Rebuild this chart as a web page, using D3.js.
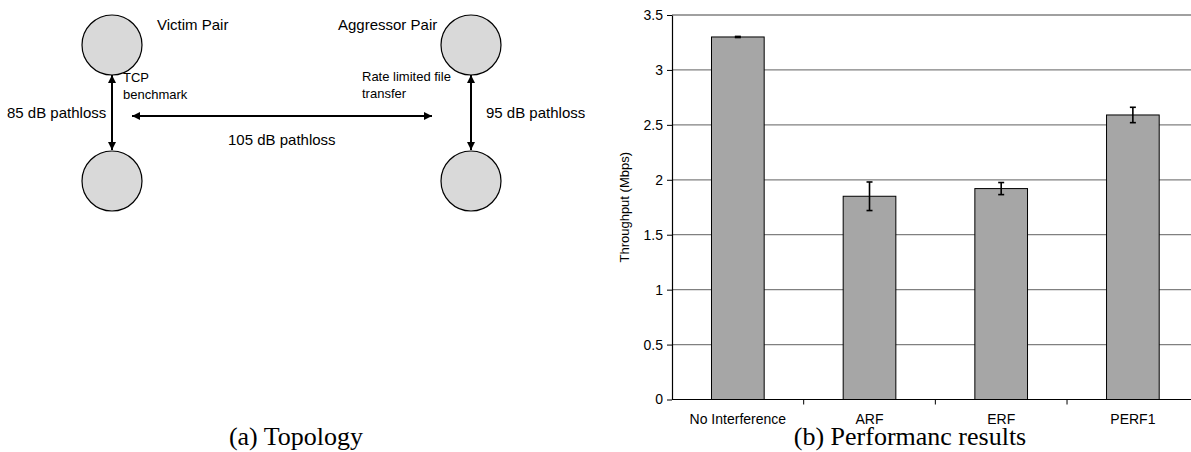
<!DOCTYPE html>
<html>
<head>
<meta charset="utf-8">
<script src="https://cdn.jsdelivr.net/npm/d3@7"></script>
<style>
  html, body { margin: 0; padding: 0; background: #fff; }
  svg { display: block; }
</style>
</head>
<body>
<svg id="fig" width="1191" height="452"></svg>
<script>
// Throughput per rate-adaptation scheme, with error bar half-widths (Mbps)
const categories = ["No Interference", "ARF", "ERF", "PERF1"];
const throughput = [3.30, 1.85, 1.92, 2.59];
const errorHalf = [0.005, 0.13, 0.055, 0.07];
const yTicks = [0, 0.5, 1, 1.5, 2, 2.5, 3, 3.5];

// Topology: node pairs and the links between them
const nodeNames = ["victimTx", "victimRx", "aggrTx", "aggrRx"];
const pathlossLabels = ["85 dB pathloss", "105 dB pathloss", "95 dB pathloss"];

const svg = d3.select("#fig");
const SANS = "Liberation Sans, Arial, Helvetica, sans-serif";
const SERIF = "Liberation Serif, Times New Roman, serif";

// ---------- (a) Topology ----------
const topo = svg.append("g");
const nodePos = {
  victimTx: [112, 45], victimRx: [112, 181],
  aggrTx: [471, 45], aggrRx: [471, 181]
};
const R = 30;

const defs = svg.append("defs");
defs.append("marker")
  .attr("id", "head")
  .attr("viewBox", "0 0 10 10")
  .attr("refX", 10).attr("refY", 5)
  .attr("markerWidth", 4.2).attr("markerHeight", 4)
  .attr("markerUnits", "strokeWidth")
  .attr("orient", "auto-start-reverse")
  .append("path").attr("d", "M0,0 L10,5 L0,10 Z").attr("fill", "#000");

topo.selectAll("circle.node")
  .data(nodeNames)
  .join("circle")
  .attr("class", "node")
  .attr("cx", d => nodePos[d][0])
  .attr("cy", d => nodePos[d][1])
  .attr("r", R)
  .attr("fill", "#d9d9d9")
  .attr("stroke", "#000")
  .attr("stroke-width", 1.2);

const links = [
  { x1: 112, y1: 75, x2: 112, y2: 150 },
  { x1: 132, y1: 116, x2: 432, y2: 116 },
  { x1: 471, y1: 75, x2: 471, y2: 150 }
];
topo.selectAll("line.link")
  .data(links)
  .join("line")
  .attr("class", "link")
  .attr("x1", d => d.x1).attr("y1", d => d.y1)
  .attr("x2", d => d.x2).attr("y2", d => d.y2)
  .attr("stroke", "#000")
  .attr("stroke-width", 2)
  .attr("marker-start", "url(#head)")
  .attr("marker-end", "url(#head)");

const bigLabels = [
  { t: "Victim Pair", x: 157, y: 30 },
  { t: "Aggressor Pair", x: 338, y: 30 },
  { t: pathlossLabels[0], x: 7, y: 118 },
  { t: pathlossLabels[1], x: 228, y: 145 },
  { t: pathlossLabels[2], x: 486, y: 118 }
];
topo.selectAll("text.big")
  .data(bigLabels)
  .join("text")
  .attr("class", "big")
  .attr("x", d => d.x).attr("y", d => d.y)
  .attr("font-family", SANS)
  .attr("font-size", 15)
  .attr("fill", "#000")
  .text(d => d.t);

const smallLabels = [
  { t: "TCP", x: 123, y: 82 },
  { t: "benchmark", x: 123, y: 99 },
  { t: "Rate limited file", x: 362, y: 81 },
  { t: "transfer", x: 362, y: 98 }
];
topo.selectAll("text.small")
  .data(smallLabels)
  .join("text")
  .attr("class", "small")
  .attr("x", d => d.x).attr("y", d => d.y)
  .attr("font-family", SANS)
  .attr("font-size", 13)
  .attr("fill", "#000")
  .text(d => d.t);

// ---------- (b) Performance chart ----------
const plotLeft = 672, plotRight = 1198.7, plotTop = 15, plotBottom = 399.5;

const x = d3.scaleBand()
  .domain(categories)
  .range([plotLeft, plotRight])
  .paddingInner(0.6)
  .paddingOuter(0.3);

const y = d3.scaleLinear()
  .domain([0, 3.5])
  .range([plotBottom, plotTop]);

const chart = svg.append("g");

// horizontal gridlines
chart.selectAll("line.grid")
  .data(yTicks.filter(v => v > 0))
  .join("line")
  .attr("class", "grid")
  .attr("x1", plotLeft).attr("x2", plotRight)
  .attr("y1", d => y(d)).attr("y2", d => y(d))
  .attr("stroke", "#808080")
  .attr("stroke-width", 1.3);

// bars
const rows = categories.map((c, i) => ({ c, v: throughput[i], e: errorHalf[i] }));
chart.selectAll("rect.bar")
  .data(rows)
  .join("rect")
  .attr("class", "bar")
  .attr("x", d => x(d.c))
  .attr("y", d => y(d.v))
  .attr("width", x.bandwidth())
  .attr("height", d => y(0) - y(d.v))
  .attr("fill", "#a6a6a6")
  .attr("stroke", "#000")
  .attr("stroke-width", 1);

// error bars
const eb = chart.selectAll("g.err")
  .data(rows)
  .join("g")
  .attr("class", "err")
  .attr("stroke", "#000")
  .attr("stroke-width", 1.6);
eb.append("line")
  .attr("x1", d => x(d.c) + x.bandwidth() / 2)
  .attr("x2", d => x(d.c) + x.bandwidth() / 2)
  .attr("y1", d => y(d.v + d.e))
  .attr("y2", d => y(d.v - d.e));
[1, -1].forEach(s => {
  eb.append("line")
    .attr("x1", d => x(d.c) + x.bandwidth() / 2 - 3)
    .attr("x2", d => x(d.c) + x.bandwidth() / 2 + 3)
    .attr("y1", d => y(d.v + s * d.e))
    .attr("y2", d => y(d.v + s * d.e));
});

// y axis
const yAxis = d3.axisLeft(y)
  .tickValues(yTicks)
  .tickFormat(d3.format("~g"))
  .tickSize(5)
  .tickSizeOuter(0)
  .tickPadding(4);
const gy = chart.append("g")
  .attr("transform", `translate(${plotLeft},0)`)
  .call(yAxis);
gy.select(".domain").attr("stroke", "#000").attr("stroke-width", 1.2);
gy.selectAll(".tick line").attr("stroke", "#000");
gy.selectAll(".tick text")
  .attr("font-family", SANS)
  .attr("font-size", 14)
  .attr("fill", "#000");

// x axis with ticks at category boundaries
const gx = chart.append("g")
  .attr("transform", `translate(0,${plotBottom})`);
gx.append("line")
  .attr("x1", plotLeft).attr("x2", plotRight)
  .attr("stroke", "#000").attr("stroke-width", 1.2);
const boundaries = categories.slice(1).map(c => x(c) - x.step() * x.paddingInner() / 2);
gx.selectAll("line.tk")
  .data(boundaries)
  .join("line")
  .attr("class", "tk")
  .attr("x1", d => d).attr("x2", d => d)
  .attr("y1", 0).attr("y2", 5)
  .attr("stroke", "#000");
gx.selectAll("text")
  .data(categories)
  .join("text")
  .attr("x", d => x(d) + x.bandwidth() / 2)
  .attr("y", 24)
  .attr("text-anchor", "middle")
  .attr("font-family", SANS)
  .attr("font-size", 14)
  .attr("fill", "#000")
  .text(d => d);

// y axis title
chart.append("text")
  .attr("transform", `translate(629,${(plotTop + plotBottom) / 2}) rotate(-90)`)
  .attr("text-anchor", "middle")
  .attr("font-family", SANS)
  .attr("font-size", 13)
  .attr("fill", "#000")
  .text("Throughput (Mbps)");

// ---------- captions ----------
svg.append("text")
  .attr("x", 296).attr("y", 445)
  .attr("text-anchor", "middle")
  .attr("font-family", SERIF)
  .attr("font-size", 26)
  .attr("fill", "#000")
  .text("(a) Topology");
svg.append("text")
  .attr("x", 910).attr("y", 445)
  .attr("text-anchor", "middle")
  .attr("font-family", SERIF)
  .attr("font-size", 26)
  .attr("fill", "#000")
  .text("(b) Performanc results");
</script>
</body>
</html>
